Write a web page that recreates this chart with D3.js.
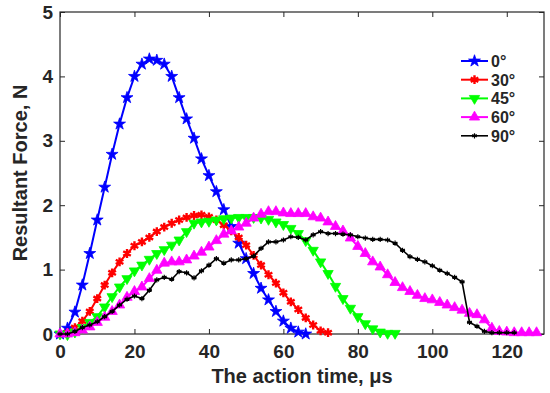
<!DOCTYPE html>
<html>
<head>
<meta charset="utf-8">
<script src="https://cdn.jsdelivr.net/npm/d3@7"></script>
<style>
  body { margin: 0; background: #fff; }
  text { font-family: "Liberation Sans", Arial, sans-serif; font-weight: bold; fill: #262626; }
</style>
</head>
<body>
<svg width="550" height="393"></svg>
<script>
// time axis, every 2 us
const step = 2;

const force0 = [0, 0.09, 0.34, 0.76, 1.25, 1.77, 2.28, 2.79, 3.26, 3.67, 4.0, 4.19, 4.27, 4.25, 4.19, 4.0,
  3.67, 3.34, 3.04, 2.72, 2.46, 2.21, 1.93, 1.67, 1.41, 1.17, 0.94, 0.71, 0.53, 0.35, 0.2, 0.09, 0.03, 0.0];

const force30 = [0, 0.02, 0.1, 0.2, 0.35, 0.55, 0.76, 0.95, 1.12, 1.25, 1.37, 1.43, 1.5, 1.59, 1.66, 1.72,
  1.77, 1.81, 1.84, 1.85, 1.82, 1.77, 1.69, 1.6, 1.5, 1.38, 1.22, 1.07, 0.92, 0.79, 0.64, 0.5, 0.38, 0.25,
  0.14, 0.05, 0.02];

const force45 = [0, -0.01, 0.03, 0.1, 0.18, 0.27, 0.42, 0.58, 0.73, 0.86, 0.98, 1.07, 1.16, 1.25, 1.31, 1.38,
  1.46, 1.59, 1.72, 1.74, 1.75, 1.77, 1.79, 1.8, 1.81, 1.81, 1.81, 1.8, 1.78, 1.74, 1.7, 1.64, 1.56, 1.45,
  1.3, 1.12, 0.94, 0.74, 0.55, 0.4, 0.27, 0.16, 0.08, 0.03, 0.01, 0.01];

const force60 = [0, 0, 0.02, 0.06, 0.11, 0.18, 0.26, 0.35, 0.45, 0.57, 0.66, 0.73, 0.86, 0.99, 1.1, 1.12,
  1.12, 1.15, 1.21, 1.27, 1.35, 1.45, 1.55, 1.6, 1.66, 1.72, 1.8, 1.86, 1.9, 1.9, 1.88, 1.87, 1.87, 1.87,
  1.82, 1.8, 1.74, 1.67, 1.6, 1.49, 1.36, 1.25, 1.12, 1.04, 0.92, 0.8, 0.72, 0.66, 0.6, 0.55, 0.53, 0.49,
  0.45, 0.41, 0.37, 0.32, 0.3, 0.22, 0.09, 0.04, 0.03, 0.02, 0.02, 0.02, 0.02];

const force90 = [0, 0, 0.04, 0.1, 0.14, 0.19, 0.27, 0.35, 0.45, 0.54, 0.59, 0.55, 0.68, 0.84, 0.88, 0.85,
  0.97, 0.95, 0.87, 0.98, 1.07, 1.17, 1.1, 1.15, 1.15, 1.17, 1.21, 1.33, 1.43, 1.43, 1.46, 1.51, 1.5, 1.46,
  1.54, 1.59, 1.56, 1.56, 1.55, 1.54, 1.51, 1.49, 1.47, 1.47, 1.46, 1.41, 1.3, 1.2, 1.16, 1.12, 1.06, 0.99,
  0.94, 0.88, 0.81, 0.18, 0.12, 0.04, 0.02, 0.02, 0.02, 0.02];

const labels = ["0°", "30°", "45°", "60°", "90°"];
const colors = ["#0000ff", "#ff0000", "#00ff00", "#ff00ff", "#000000"];
const markers = ["star", "asterisk", "down", "up", "small"];
const xTicks = [0, 20, 40, 60, 80, 100, 120];
const yTicks = [0, 1, 2, 3, 4, 5];

const series = [force0, force30, force45, force60, force90].map((vals, i) => ({
  name: labels[i],
  color: colors[i],
  marker: markers[i],
  points: vals.map((v, j) => ({ t: j * step, f: v }))
}));

const svg = d3.select("svg");
const plotL = 60, plotR = 544, plotT = 12, plotB = 334;

const x = d3.scaleLinear().domain([0, 130]).range([plotL, plotR]);
const y = d3.scaleLinear().domain([0, 5]).range([plotB, plotT]);

// axes (ticks inside, mirrored)
const tickLen = 5;
svg.append("g").attr("transform", `translate(0,${plotB})`)
  .call(d3.axisBottom(x).tickValues(xTicks).tickFormat(d3.format("d"))
    .tickSizeInner(-tickLen).tickSizeOuter(0).tickPadding(11))
  .call(g => g.select(".domain").remove())
  .call(g => g.selectAll("text").attr("font-size", 19).attr("font-family", null).attr("fill", "#262626"));
svg.append("g").attr("transform", `translate(0,${plotT})`)
  .call(d3.axisTop(x).tickValues(xTicks).tickSizeInner(-tickLen).tickSizeOuter(0).tickFormat(""))
  .call(g => g.select(".domain").remove());
svg.append("g").attr("transform", `translate(${plotL},0)`)
  .call(d3.axisLeft(y).tickValues(yTicks).tickFormat(d3.format("d"))
    .tickSizeInner(-tickLen).tickSizeOuter(0).tickPadding(7))
  .call(g => g.select(".domain").remove())
  .call(g => g.selectAll("text").attr("font-size", 19).attr("font-family", null).attr("fill", "#262626"));
svg.append("g").attr("transform", `translate(${plotR},0)`)
  .call(d3.axisRight(y).tickValues(yTicks).tickSizeInner(-tickLen).tickSizeOuter(0).tickFormat(""))
  .call(g => g.select(".domain").remove());
svg.selectAll(".tick line").attr("stroke", "#262626");

svg.append("rect")
  .attr("x", plotL).attr("y", plotT).attr("width", plotR - plotL).attr("height", plotB - plotT)
  .attr("fill", "none").attr("stroke", "#262626").attr("stroke-width", 1.2);

// titles
svg.append("text").attr("x", (plotL + plotR) / 2).attr("y", 383)
  .attr("text-anchor", "middle").attr("font-size", 20).text("The action time, μs");
svg.append("text").attr("transform", `translate(27,${(plotT + plotB) / 2}) rotate(-90)`)
  .attr("text-anchor", "middle").attr("font-size", 20).text("Resultant Force, N");

function drawMarker(g, kind, color) {
  if (kind === "star") {
    g.append("path").attr("d", d3.symbol(d3.symbolStar, 44)())
      .attr("fill", color).attr("stroke", color).attr("stroke-width", 0.8);
  } else if (kind === "down" || kind === "up") {
    g.append("path").attr("d", d3.symbol(d3.symbolTriangle, 46)())
      .attr("transform", kind === "down" ? "rotate(180)" : null)
      .attr("fill", color).attr("stroke", color).attr("stroke-width", 0.8);
  } else {
    const r = kind === "asterisk" ? 4.4 : 2.6;
    const w = kind === "asterisk" ? 2.4 : 1.2;
    const d = [0, 60, 120].map(a => {
      const rad = a * Math.PI / 180;
      const dx = r * Math.sin(rad), dy = r * Math.cos(rad);
      return `M${-dx},${-dy}L${dx},${dy}`;
    }).join("") + (kind === "small" ? `M${-r},0L${r},0` : "");
    g.append("path").attr("d", d).attr("stroke", color).attr("stroke-width", w).attr("fill", "none");
  }
}

const line = d3.line().x(d => x(d.t)).y(d => y(d.f));

series.forEach(s => {
  const g = svg.append("g");
  g.append("path").datum(s.points).attr("d", line)
    .attr("fill", "none").attr("stroke", s.color)
    .attr("stroke-width", s.marker === "small" ? 1.6 : 2);
  g.selectAll("g.m").data(s.points).join("g").attr("class", "m")
    .attr("transform", d => `translate(${x(d.t)},${y(d.f)})`)
    .each(function () { drawMarker(d3.select(this), s.marker, s.color); });
});

// legend
const legend = svg.append("g");
series.forEach((s, i) => {
  const ly = 61 + i * 18.7;
  const g = legend.append("g").attr("transform", `translate(461,${ly})`);
  g.append("line").attr("x1", 0).attr("x2", 27).attr("stroke", s.color)
    .attr("stroke-width", s.marker === "small" ? 1.6 : 2);
  const m = g.append("g").attr("transform", "translate(13.5,0)");
  drawMarker(m, s.marker, s.color);
  g.append("text").attr("x", 30).attr("y", 6).attr("font-size", 16).text(s.name);
});
</script>
</body>
</html>
